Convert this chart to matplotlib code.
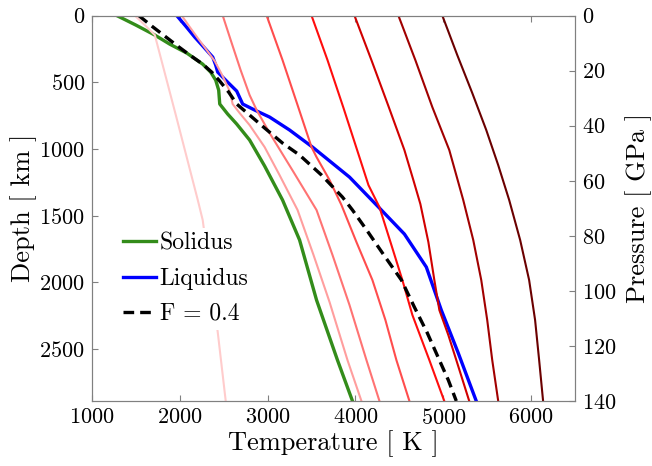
import numpy as np
import matplotlib
matplotlib.use("Agg")
import matplotlib.pyplot as plt

plt.rcParams['font.family'] = 'cmr10'
plt.rcParams['mathtext.fontset'] = 'cm'
plt.rcParams['axes.formatter.use_mathtext'] = True

# --- data: temperature [K] vs depth [km] ---
solidus_T = [1284, 1500, 1716, 1886, 2080, 2261, 2352, 2409, 2443, 2455, 2545, 2648, 2795,
             2966, 3170, 3364, 3557, 3795, 3966]
solidus_d = [0, 71, 146, 214, 281, 364, 424, 484, 559, 663, 738, 813, 933,
             1128, 1383, 1683, 2133, 2583, 2890]

liquidus_T = [1966, 2068, 2170, 2273, 2375, 2409, 2432, 2545, 2648, 2716, 2852, 3023, 3250,
              3511, 3932, 4273, 4557, 4807, 4977, 5170, 5375]
liquidus_d = [0, 79, 161, 236, 311, 371, 424, 499, 566, 663, 708, 761, 858,
              986, 1211, 1443, 1638, 1886, 2208, 2530, 2890]

f04_T = [1534, 1682, 1830, 1977, 2114, 2261, 2364, 2455, 2557, 2648, 2795, 2966, 3170,
         3364, 3614, 3852, 3966, 4136, 4307, 4523, 4670, 4818, 4955, 5057, 5148]
f04_d = [0, 79, 154, 229, 296, 364, 424, 491, 574, 663, 746, 843, 956,
         1046, 1196, 1361, 1458, 1616, 1780, 1983, 2185, 2380, 2583, 2733, 2890]

# mantle adiabats, potential temperature 1500 ... 5000 K
ad1500_T = [1489, 1602, 1716, 1955, 2205, 2261, 2432, 2523]
ad1500_d = [0, 71, 146, 746, 1383, 1533, 2373, 2890]
ad2000_T = [2023, 2114, 2205, 2307, 2398, 2477, 2568, 2602, 2682, 2795, 2966, 3136, 3341,
            3523, 3705, 3909, 4068]
ad2000_d = [0, 86, 169, 259, 341, 439, 566, 663, 731, 821, 986, 1196, 1458,
            1796, 2148, 2583, 2890]
ad2500_T = [2489, 2591, 2693, 2795, 2875, 3023, 3295, 3557, 3739, 3932, 4125, 4273]
ad2500_d = [0, 206, 409, 596, 708, 881, 1173, 1458, 1796, 2170, 2583, 2890]
ad3000_T = [2989, 3170, 3341, 3500, 3557, 3705, 3841, 4011, 4193, 4341, 4466, 4614]
ad3000_d = [0, 334, 671, 986, 1061, 1233, 1421, 1698, 1983, 2283, 2583, 2890]
ad3500_T = [3500, 3682, 3864, 4045, 4148, 4273, 4409, 4534, 4648, 4841, 5011]
ad3500_d = [0, 334, 693, 1061, 1271, 1436, 1720, 1983, 2245, 2583, 2890]
ad4000_T = [3989, 4182, 4375, 4557, 4659, 4739, 4830, 4898, 4955, 5057, 5148, 5295]
ad4000_d = [0, 334, 678, 1008, 1233, 1413, 1698, 1983, 2208, 2395, 2583, 2890]
ad4500_T = [4489, 4682, 4875, 5068, 5227, 5341, 5432, 5500, 5557, 5625]
ad4500_d = [0, 334, 686, 1008, 1383, 1683, 1983, 2283, 2583, 2890]
ad5000_T = [4989, 5159, 5330, 5489, 5625, 5750, 5875, 5977, 6045, 6091, 6136]
ad5000_d = [0, 296, 581, 858, 1121, 1383, 1683, 1983, 2283, 2583, 2890]

adiabats = [(ad1500_T, ad1500_d), (ad2000_T, ad2000_d), (ad2500_T, ad2500_d), (ad3000_T, ad3000_d),
            (ad3500_T, ad3500_d), (ad4000_T, ad4000_d), (ad4500_T, ad4500_d), (ad5000_T, ad5000_d)]
adiabat_colors = [(1, 0.8, 0.8), (1, 0.62, 0.62), (1, 0.45, 0.45), (1, 0.3, 0.3),
                  (1, 0.05, 0.05), (0.82, 0, 0), (0.63, 0, 0), (0.42, 0, 0)]

depth_max = 2890
p_max = 140

fig = plt.figure(figsize=(6.52, 4.66), dpi=100)
ax = fig.add_axes([0.141, 0.1395, 0.741, 0.827])

h_sol, = ax.plot(solidus_T, solidus_d, color=(0.2, 0.55, 0.1), lw=2.4, label='Solidus')
h_liq, = ax.plot(liquidus_T, liquidus_d, color='blue', lw=2.4, label='Liquidus')
for (T, d), c in zip(adiabats, adiabat_colors):
    ax.plot(T, d, color=c, lw=1.5)
h_f, = ax.plot(f04_T, f04_d, color='black', lw=2.4, ls=(0, (3.2, 1.8)), label='F = 0.4')

ax.set_xlim(1000, 6500)
ax.set_ylim(depth_max, 0)
ax.set_xticks([1000, 2000, 3000, 4000, 5000, 6000])
ax.set_yticks([0, 500, 1000, 1500, 2000, 2500])
ax.set_xlabel('Temperature [ K ]', fontsize=19, labelpad=2)
ax.set_ylabel('Depth [ km ]', fontsize=19, labelpad=2)
ax.tick_params(direction='in', length=4, width=0.8, color='#808080', labelsize=16,
               top=True, right=False, pad=5)

ax2 = ax.twinx()
ax2.set_ylim(p_max, 0)
ax2.set_yticks([0, 20, 40, 60, 80, 100, 120, 140])
ax2.set_ylabel('Pressure [ GPa ]', fontsize=19, labelpad=6)
ax2.tick_params(direction='in', length=4, width=0.8, color='#808080', labelsize=16, pad=5)

for a in (ax, ax2):
    for s in a.spines.values():
        s.set_color('#808080')
        s.set_linewidth(0.8)

leg = ax.legend(handles=[h_sol, h_liq, h_f], loc='upper left', bbox_to_anchor=(0.03, 0.48),
                fontsize=17, frameon=True, facecolor='white', edgecolor='none', framealpha=1,
                handlelength=1.4, handletextpad=0.15, labelspacing=0.55, borderpad=0.2)

fig.savefig('out.png', dpi=100)
